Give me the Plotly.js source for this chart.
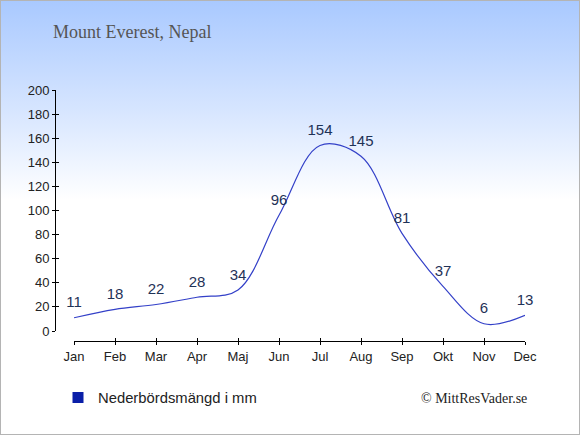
<!DOCTYPE html>
<html>
<head>
<meta charset="utf-8">
<script src="https://cdn.plot.ly/plotly-3.0.1.min.js"></script>
<style>
html,body{margin:0;padding:0;background:#fff;}
#chart{width:580px;height:435px;box-sizing:border-box;border:1px solid #b4b4b4;
background:linear-gradient(to bottom,#a9c9ff 0%,#d6e5ff 25%,#ffffff 46%,#ffffff 100%);}
</style>
</head>
<body>
<div id="chart"></div>
<script>
var months = ["Jan","Feb","Mar","Apr","Maj","Jun","Jul","Aug","Sep","Okt","Nov","Dec"];
var precipitation = [11,18,22,28,34,96,154,145,81,37,6,13];
var yTicks = [0,20,40,60,80,100,120,140,160,180,200];
var seriesName = "Nederbördsmängd i mm";
var chartTitle = "Mount Everest, Nepal";
var credit = "© MittResVader.se";

var W = 578, H = 433; // inner size (border excluded)
function px(x){return x/W;}
function py(y){return (H-y)/H;}

var traces = [
  {
    x: months, y: precipitation, type: "scatter", mode: "lines+markers+text",
    line: {color: "#3340c8", width: 1.2, shape: "spline", smoothing: 1},
    marker: {size: 9, color: "rgba(0,0,0,0)"},
    text: precipitation.map(String), textposition: "top center",
    textfont: {family: "Liberation Sans, Arial, sans-serif", size: 15, color: "#1f3257"},
    cliponaxis: false, showlegend: false, hoverinfo: "skip"
  },
  {
    x: [null], y: [null], type: "scatter", mode: "markers",
    marker: {symbol: "square", size: 11, color: "#0a1fa8"},
    name: seriesName, showlegend: true, hoverinfo: "skip"
  }
];

var axFont = {family: "Liberation Sans, Arial, sans-serif", size: 13, color: "#222"};
var xDom = [px(73), px(524)];
var yDom = [py(330), py(89)];

var layout = {
  width: 578, height: 433,
  margin: {l: 0, r: 0, t: 0, b: 0},
  paper_bgcolor: "rgba(0,0,0,0)", plot_bgcolor: "rgba(0,0,0,0)",
  showlegend: true,
  legend: {x: px(57), y: py(397), xanchor: "left", yanchor: "middle",
    font: {family: "Liberation Sans, Arial, sans-serif", size: 14.8, color: "#222"},
    bgcolor: "rgba(0,0,0,0)", itemwidth: 30},
  xaxis: {domain: xDom, range: [0, 11], type: "category", anchor: "free", position: py(340),
    showline: true, linecolor: "#000", linewidth: 1.3, ticks: "outside", ticklen: 3, tickcolor: "#000",
    showgrid: false, zeroline: false, tickfont: axFont, fixedrange: true},
  xaxis2: {domain: xDom, range: [0, 11], type: "category", anchor: "free", position: py(340),
    overlaying: "x", ticks: "inside", ticklen: 3, tickcolor: "#000", showticklabels: false,
    showgrid: false, zeroline: false, showline: false, tickvals: months},
  yaxis: {domain: yDom, range: [0, 200], anchor: "free", position: px(54),
    showline: true, linecolor: "#000", linewidth: 1.3, ticks: "outside", ticklen: 3, tickcolor: "#000",
    tickvals: yTicks, ticktext: yTicks.map(String),
    showgrid: false, zeroline: false, tickfont: axFont, fixedrange: true},
  yaxis2: {domain: yDom, range: [0, 200], anchor: "free", position: px(54), overlaying: "y",
    ticks: "inside", ticklen: 3, tickcolor: "#000", tickvals: yTicks, showticklabels: false,
    showgrid: false, zeroline: false, showline: false},
  annotations: [
    {text: chartTitle, xref: "paper", yref: "paper", x: px(50), y: py(31), xanchor: "left", yanchor: "middle",
      showarrow: false, font: {family: "Liberation Serif, Times New Roman, serif", size: 18, color: "#555"}},
    {text: credit, xref: "paper", yref: "paper", x: px(528), y: py(397), xanchor: "right", yanchor: "middle",
      showarrow: false, font: {family: "Liberation Serif, Times New Roman, serif", size: 14, color: "#222"}}
  ]
};

// dummy trace to activate the overlay axes (ticks only)
traces.push({x: months, y: precipitation, xaxis: "x2", yaxis: "y2", type: "scatter", mode: "none",
  showlegend: false, hoverinfo: "skip"});

Plotly.newPlot("chart", traces, layout, {staticPlot: true, displayModeBar: false});
</script>
</body>
</html>
